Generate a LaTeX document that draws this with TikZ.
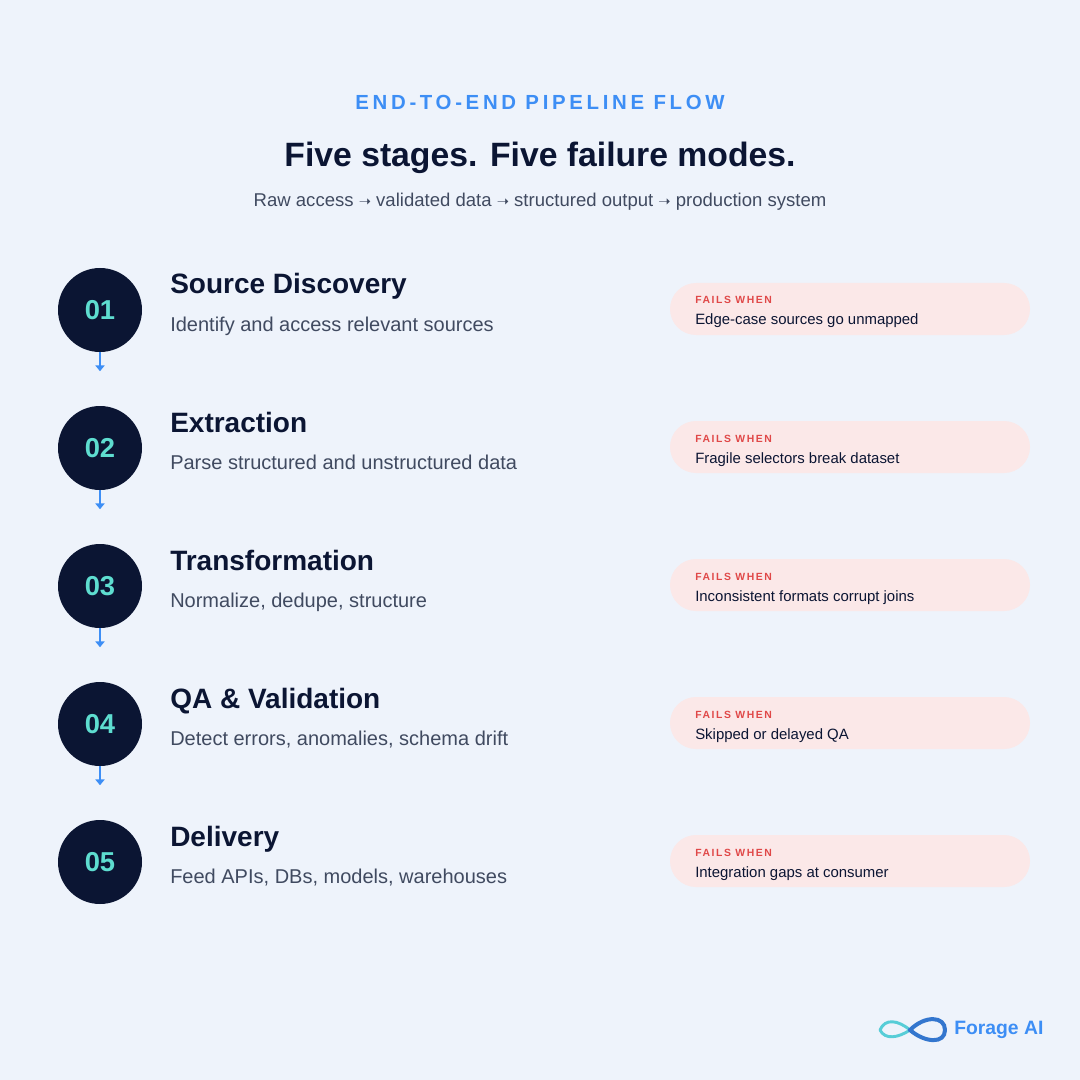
\documentclass[tikz,border=0pt]{standalone}
\usepackage{fontspec}
\setmainfont{Liberation Sans}
\newfontfamily\symf{DejaVu Sans}
\usetikzlibrary{arrows.meta}
\definecolor{bg}{HTML}{EEF3FB}
\definecolor{navy}{HTML}{0B1533}
\definecolor{teal}{HTML}{5EDDD0}
\definecolor{blue}{HTML}{3D8EF5}
\definecolor{gray}{HTML}{404A60}
\definecolor{pill}{HTML}{FBE8E8}
\definecolor{red}{HTML}{E04848}
\newcommand\arr{{\symf\fontsize{11}{11}\selectfont ➝}}
\tikzset{
 circ/.style={circle,fill=navy,minimum size=63pt,inner sep=0,text=teal,font=\bfseries\fontsize{20.5}{20}\selectfont},
 ttl/.style={anchor=base west,inner sep=0,text=navy,font=\bfseries\fontsize{21}{22}\selectfont},
 dsc/.style={anchor=base west,inner sep=0,text=gray,font=\fontsize{15}{16}\selectfont},
 pillbox/.style={fill=pill,rounded corners=19.5pt,minimum width=270pt,minimum height=39pt,inner sep=0},
 fw/.style={anchor=base west,inner sep=0,text=red,font=\bfseries\fontsize{7.8}{8}\selectfont},
 ft/.style={anchor=base west,inner sep=0,text=navy,font=\fontsize{11.2}{12}\selectfont},
 flow/.style={blue,line width=1.8pt,-{Triangle[width=7pt,length=4.5pt]}}
}
\begin{document}
\begin{tikzpicture}[x=0.75pt,y=-0.75pt]
\fill[bg] (0,0) rectangle (1080,1080);
\useasboundingbox (0,0) rectangle (1080,1080);
\node[text=blue,font=\bfseries\fontsize{15.3}{15}\selectfont] (hdr) at (540,102) {\addfontfeature{LetterSpace=18}END-TO-END PIPELINE FLOW};
\node[text=navy,font=\bfseries\fontsize{25.3}{26}\selectfont] (title) at (540,158) {Five stages. Five failure modes.};
\node[text=gray,font=\fontsize{13.9}{14}\selectfont] (sub) at (540,202) {Raw access \arr{} validated data \arr{} structured output \arr{} production system};
\foreach \i/\t/\d/\f [count=\k] in {01/Source Discovery/Identify and access relevant sources/Edge-case sources go unmapped,
 02/Extraction/Parse structured and unstructured data/Fragile selectors break dataset,
 03/Transformation/{Normalize, dedupe, structure}/Inconsistent formats corrupt joins,
 04/QA \& Validation/{Detect errors, anomalies, schema drift}/Skipped or delayed QA,
 05/Delivery/{Feed APIs, DBs, models, warehouses}/Integration gaps at consumer}{
 \pgfmathsetmacro\y{310+138*(\k-1)}
 \node[circ] (c\k) at (100,\y) {\i};
 \node[ttl] (t\k) at (170,\y-16) {\t};
 \node[dsc] (d\k) at (170,\y+21) {\d};
 \node[pillbox] (p\k) at (850,\y-1) {};
 \node[fw] (fw\k) at (695,\y-6) {\addfontfeature{LetterSpace=15}FAILS WHEN};
 \node[ft] (ft\k) at (695,\y+15) {\f};
}
\foreach \k in {1,...,4}{ \draw[flow] (c\k.south) -- ++(0,19); }
% logo
\draw[line width=2.2pt,teal!80!blue,line cap=round] (880,1030) .. controls (885,1018) and (898,1020) .. (910,1030);
\draw[line width=2.2pt,teal!80!blue,line cap=round] (880,1030) .. controls (885,1040) and (898,1038) .. (910,1030);
\draw[line width=3pt,blue!80!navy,line cap=round] (910,1030) .. controls (925,1015) and (945,1016) .. (945,1030);
\draw[line width=3pt,blue!80!navy,line cap=round] (910,1030) .. controls (925,1043) and (945,1044) .. (945,1030);
\node[anchor=west,inner sep=0,text=blue,font=\bfseries\fontsize{14.5}{14}\selectfont] (logo) at (954,1030) {Forage AI};
\end{tikzpicture}
\end{document}
